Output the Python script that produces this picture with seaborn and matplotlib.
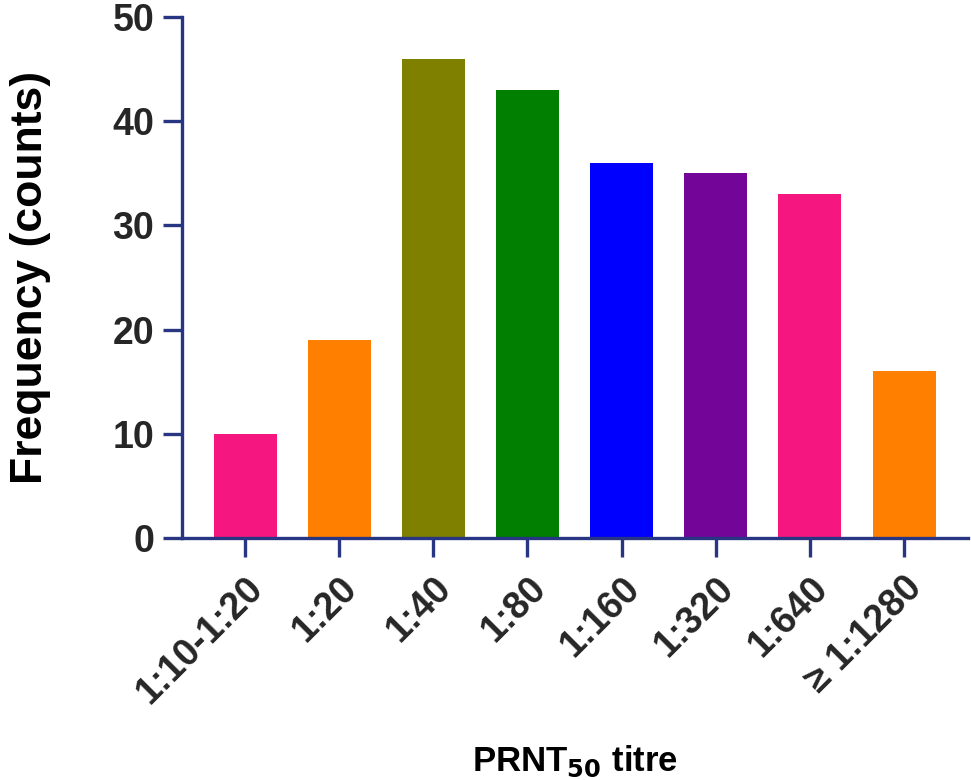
import matplotlib
matplotlib.use("Agg")
import matplotlib.pyplot as plt
import seaborn as sns
import pandas as pd

titres = ["1:10-1:20", "1:20", "1:40", "1:80", "1:160", "1:320", "1:640", "≥ 1:1280"]
counts = [10, 19, 46, 43, 36, 35, 33, 16]
bar_colors = ["#F5177F", "#FF8000", "#7F7F00", "#007F00", "#0000FF", "#730699", "#F5177F", "#FF8000"]

navy = "#283583"

sns.set_theme(style="white")
plt.rcParams["font.family"] = ["Liberation Sans", "DejaVu Sans"]

df = pd.DataFrame({"titre": titres, "count": counts})

fig = plt.figure(figsize=(9.71, 7.80), dpi=100)
ax = fig.add_axes([0.1874, 0.3103, 0.8096, 0.6679])

sns.barplot(data=df, x="titre", y="count", hue="titre", palette=bar_colors,
            legend=False, width=0.67, saturation=1, ax=ax, linewidth=0)

ax.set_xlim(-0.67, 7.68)
ax.set_ylim(0, 50)
ax.set_yticks([0, 10, 20, 30, 40, 50])

for side in ["top", "right"]:
    ax.spines[side].set_visible(False)
for side in ["left", "bottom"]:
    ax.spines[side].set_color(navy)
    ax.spines[side].set_linewidth(2.4)

ax.tick_params(axis="both", direction="out", length=14, width=2.4, color=navy,
               labelsize=27, labelcolor="#262626", pad=6, bottom=True, left=True)
ax.tick_params(axis="x", pad=9)
for lbl in ax.get_yticklabels():
    lbl.set_fontweight("bold")
ax.set_xticks(range(len(titres)))
ax.set_xticklabels(titres, rotation=45, ha="right", rotation_mode="anchor",
                   fontweight="bold")

ax.set_ylabel("Frequency (counts)", fontsize=32, fontweight="bold", color="black", labelpad=44)
ax.set_xlabel("PRNT$_{\\mathbf{50}}$ titre", fontsize=25, fontweight="bold", color="black", labelpad=24)

fig.savefig("out.png", dpi=100)
